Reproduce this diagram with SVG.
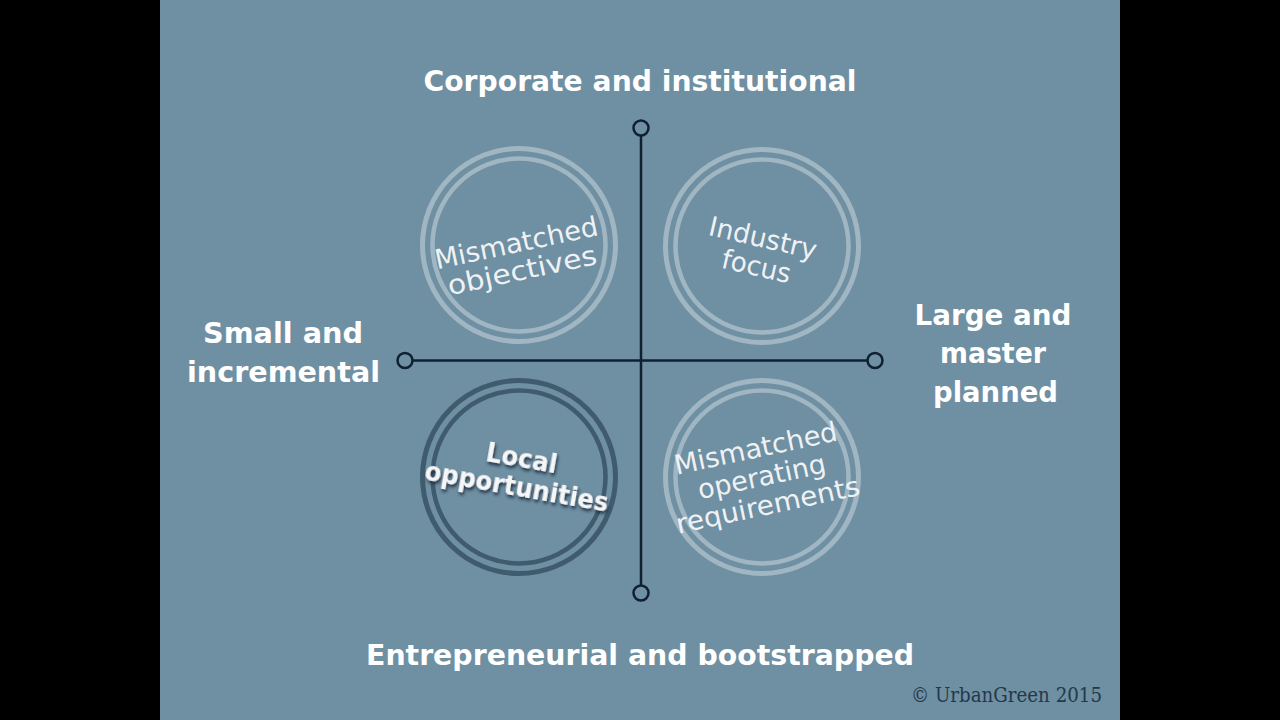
<svg xmlns="http://www.w3.org/2000/svg" width="1280" height="720" viewBox="0 0 1280 720">
  <defs>
    <style>
      .axis { font-family: "DejaVu Sans", "Open Sans", sans-serif; font-weight: bold; font-size: 28px; fill: #ffffff; text-anchor: middle; }
      .ctext { font-family: "DejaVu Sans", "Open Sans", sans-serif; font-size: 27px; fill: #eef2f5; text-anchor: middle; }
      .ctext-bold { font-family: "DejaVu Sans", "Open Sans", sans-serif; font-weight: bold; font-size: 26px; fill: #f4f6f8; text-anchor: middle; }
      .ring-light { fill: none; stroke: #a1b6c3; }
      .ring-dark { fill: none; stroke: #3f5b6d; }
      .line { stroke: #0f2030; stroke-width: 2.5; fill: none; }
      .end { fill: #6f8fa2; stroke: #0f2030; stroke-width: 2.5; }
      .copy { font-family: "DejaVu Serif", "Liberation Serif", serif; font-size: 20px; fill: #23394b; }
    </style>
    <filter id="shadow" x="-20%" y="-30%" width="140%" height="170%">
      <feDropShadow dx="1.5" dy="2.5" stdDeviation="1.6" flood-color="#16293a" flood-opacity="0.9"/>
    </filter>
  </defs>

  <rect x="0" y="0" width="1280" height="720" fill="#000000"/>
  <rect x="160" y="0" width="960" height="720" fill="#6f8fa2"/>

  <g id="connectors">
    <line class="line" x1="641" y1="136" x2="641" y2="585"/>
    <line class="line" x1="413" y1="360.5" x2="867" y2="360.5"/>
    <circle class="end" cx="641" cy="128" r="7.5"/>
    <circle class="end" cx="641" cy="593" r="7.5"/>
    <circle class="end" cx="405" cy="360.5" r="7.5"/>
    <circle class="end" cx="875" cy="360.5" r="7.5"/>
  </g>

  <g id="label-top">
    <text class="axis" x="640" y="91" textLength="433" lengthAdjust="spacingAndGlyphs">Corporate and institutional</text>
  </g>
  <g id="label-bottom">
    <text class="axis" x="640" y="665" textLength="548" lengthAdjust="spacingAndGlyphs">Entrepreneurial and bootstrapped</text>
  </g>
  <g id="label-left">
    <text class="axis" x="283" y="343" textLength="160" lengthAdjust="spacingAndGlyphs">Small and</text>
    <text class="axis" x="283.5" y="382" textLength="193" lengthAdjust="spacingAndGlyphs">incremental</text>
  </g>
  <g id="label-right">
    <text class="axis" x="993" y="325" textLength="157" lengthAdjust="spacingAndGlyphs">Large and</text>
    <text class="axis" x="993" y="363" textLength="106" lengthAdjust="spacingAndGlyphs">master</text>
    <text class="axis" x="995.5" y="402" textLength="125" lengthAdjust="spacingAndGlyphs">planned</text>
  </g>

  <g id="node-mismatched-objectives">
    <circle class="ring-light" cx="519" cy="245" r="96.5" stroke-width="5"/>
    <circle class="ring-light" cx="519" cy="245" r="86.5" stroke-width="4.5"/>
    <g transform="translate(519,256) rotate(-12)">
      <text class="ctext" x="0" y="-4" textLength="166" lengthAdjust="spacingAndGlyphs">Mismatched</text>
      <text class="ctext" x="0" y="24" textLength="152" lengthAdjust="spacingAndGlyphs">objectives</text>
    </g>
  </g>

  <g id="node-industry-focus">
    <circle class="ring-light" cx="762" cy="246" r="96.5" stroke-width="5"/>
    <circle class="ring-light" cx="762" cy="246" r="86.5" stroke-width="4.5"/>
    <g transform="translate(760,251) rotate(13)">
      <text class="ctext" x="0" y="-4" textLength="110" lengthAdjust="spacingAndGlyphs">Industry</text>
      <text class="ctext" x="0" y="25" textLength="70" lengthAdjust="spacingAndGlyphs">focus</text>
    </g>
  </g>

  <g id="node-local-opportunities">
    <circle class="ring-dark" cx="519" cy="477" r="96.5" stroke-width="5"/>
    <circle class="ring-dark" cx="519" cy="477" r="86.5" stroke-width="4.5"/>
    <g transform="translate(519,474) rotate(10)" filter="url(#shadow)">
      <text class="ctext-bold" x="0" y="-7" textLength="72" lengthAdjust="spacingAndGlyphs">Local</text>
      <text class="ctext-bold" x="0" y="22" textLength="186" lengthAdjust="spacingAndGlyphs">opportunities</text>
    </g>
  </g>

  <g id="node-mismatched-operating">
    <circle class="ring-light" cx="762" cy="477" r="96.5" stroke-width="5"/>
    <circle class="ring-light" cx="762" cy="477" r="86.5" stroke-width="4.5"/>
    <g transform="translate(762,478) rotate(-12)">
      <text class="ctext" x="0" y="-21" textLength="166" lengthAdjust="spacingAndGlyphs">Mismatched</text>
      <text class="ctext" x="0" y="8" textLength="130" lengthAdjust="spacingAndGlyphs">operating</text>
      <text class="ctext" x="0" y="37" textLength="187" lengthAdjust="spacingAndGlyphs">requirements</text>
    </g>
  </g>

  <g id="copyright">
    <text class="copy" x="911" y="702" textLength="191" lengthAdjust="spacingAndGlyphs">© UrbanGreen 2015</text>
  </g>
</svg>
